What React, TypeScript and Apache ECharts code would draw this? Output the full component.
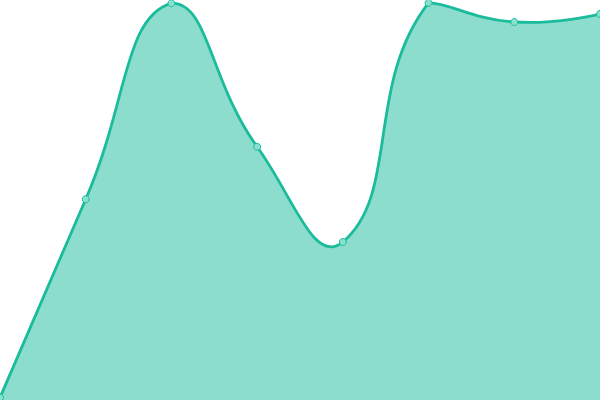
import React, { useEffect, useRef } from 'react';
import * as echarts from 'echarts';

// 数据
const categories = ['A', 'B', 'C', 'D', 'E', 'F', 'G', 'H'];
const values = [0.6, 50.2, 99.2, 63.3, 39.5, 99.3, 94.5, 96.5];

const LINE_COLOR = '#1abc9c';
const SMOOTH = 0.5;

type Pt = [number, number];

// 旧版(4.x)的平滑算法：控制点按前后点距离分配，并限制在点的包围盒内
const smoothPath = (pts: Pt[]): string => {
  const min: Pt = [Infinity, Infinity];
  const max: Pt = [-Infinity, -Infinity];
  pts.forEach(p => {
    min[0] = Math.min(min[0], p[0]); min[1] = Math.min(min[1], p[1]);
    max[0] = Math.max(max[0], p[0]); max[1] = Math.max(max[1], p[1]);
  });
  const clamp = (p: Pt): Pt => [
    Math.min(Math.max(p[0], min[0]), max[0]),
    Math.min(Math.max(p[1], min[1]), max[1])
  ];
  const cps: Pt[] = [];
  pts.forEach((p, i) => {
    if (i === 0 || i === pts.length - 1) {
      cps.push([p[0], p[1]]);
      return;
    }
    const prev = pts[i - 1];
    const next = pts[i + 1];
    const vx = (next[0] - prev[0]) * SMOOTH;
    const vy = (next[1] - prev[1]) * SMOOTH;
    let d0 = Math.hypot(p[0] - prev[0], p[1] - prev[1]);
    let d1 = Math.hypot(p[0] - next[0], p[1] - next[1]);
    const sum = d0 + d1;
    if (sum !== 0) { d0 /= sum; d1 /= sum; }
    cps.push(clamp([p[0] - vx * d0, p[1] - vy * d0]));
    cps.push(clamp([p[0] + vx * d1, p[1] + vy * d1]));
  });
  let d = `M${pts[0][0]} ${pts[0][1]}`;
  for (let i = 1; i < pts.length; i++) {
    const c1 = cps[2 * (i - 1)];
    const c2 = cps[2 * (i - 1) + 1];
    d += ` C${c1[0]} ${c1[1]} ${c2[0]} ${c2[1]} ${pts[i][0]} ${pts[i][1]}`;
  }
  return d;
};

const App: React.FC = () => {
  const chartRef = useRef<HTMLDivElement>(null);

  useEffect(() => {
    if (!chartRef.current) return;
    const chart = echarts.init(chartRef.current, undefined, { renderer: 'svg' });

    const options: echarts.EChartsOption = {
      animation: false,
      grid: { left: 0, right: 0, top: 0, bottom: 0 },
      xAxis: {
        type: 'category',
        show: false,
        boundaryGap: false,
        data: categories
      },
      yAxis: {
        type: 'value',
        show: false,
        min: 0,
        max: 100
      },
      series: [
        {
          // 平滑曲线和面积
          type: 'custom',
          data: values.map((v, i) => [i, v]),
          renderItem: (params: any, api: any) => {
            if (params.dataIndex !== 0) return null;
            const pts: Pt[] = values.map((v, i) => api.coord([i, v]));
            const base0 = api.coord([0, 0]);
            const baseN = api.coord([values.length - 1, 0]);
            const line = smoothPath(pts);
            const area = `${line} L${baseN[0]} ${baseN[1]} L${base0[0]} ${base0[1]} Z`;
            return {
              type: 'group',
              children: [
                {
                  type: 'path',
                  shape: { pathData: area },
                  style: { fill: LINE_COLOR, opacity: 0.5 }
                },
                {
                  type: 'path',
                  shape: { pathData: line },
                  style: { fill: 'none', stroke: LINE_COLOR, lineWidth: 2.8 }
                }
              ]
            };
          }
        },
        {
          // 数据点
          type: 'line',
          data: values,
          symbol: 'circle',
          symbolSize: 7,
          lineStyle: { opacity: 0 },
          itemStyle: { color: '#8ae0cf', borderColor: LINE_COLOR, borderWidth: 1 },
          z: 3
        }
      ]
    };

    chart.setOption(options);
    return () => chart.dispose();
  }, []);

  return (
    <div
      ref={chartRef}
      style={{ position: 'fixed', left: 0, top: 0, width: '600px', height: '400px' }}
    />
  );
};

export default App;
